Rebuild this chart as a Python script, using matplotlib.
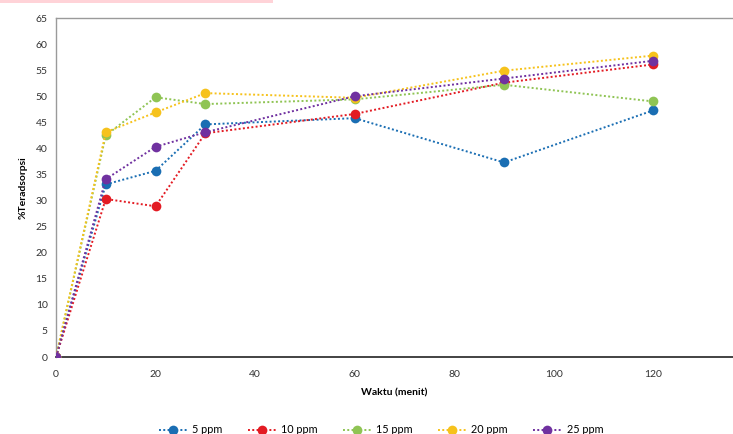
import matplotlib
matplotlib.use("Agg")
import matplotlib.pyplot as plt
from matplotlib.patches import Rectangle

plt.rcParams['font.family'] = ['Lato', 'DejaVu Sans']

waktu = [0, 10, 20, 30, 60, 90, 120]
ppm_5 = [0, 33.1, 35.7, 44.6, 45.8, 37.3, 47.3]
ppm_10 = [0, 30.3, 28.9, 42.9, 46.6, 52.6, 56.1]
ppm_15 = [0, 42.5, 49.8, 48.5, 49.4, 52.2, 49.0]
ppm_20 = [0, 43.1, 46.9, 50.6, 49.7, 54.9, 57.8]
ppm_25 = [0, 34.1, 40.3, 43.1, 50.0, 53.4, 56.8]

labels = ['5 ppm', '10 ppm', '15 ppm', '20 ppm', '25 ppm']
colors = ['#1a6eb3', '#e31b23', '#8fc454', '#f6c21c', '#7031a0']
series = [ppm_5, ppm_10, ppm_15, ppm_20, ppm_25]

fig = plt.figure(figsize=(7.33, 4.34), dpi=100)
ax = fig.add_axes([0.0764, 0.1774, 0.9236, 0.7811])

for vals, lab, col in zip(series, labels, colors):
    ax.plot(waktu, vals, linestyle=(0, (1, 1.2)), linewidth=1.4, color=col,
            marker='o', markersize=7.0, markeredgewidth=0, label=lab)

ax.set_xlim(0, 136)
ax.set_ylim(0, 65)
ax.set_xticks(range(0, 121, 20))
ax.set_yticks(range(0, 66, 5))
ax.tick_params(axis='both', length=0, labelsize=7.5, colors='#333333', pad=6)
ax.tick_params(axis='x', pad=9)

ax.spines['right'].set_visible(False)
ax.spines['left'].set_color('#9a9a9a')
ax.spines['top'].set_color('#9a9a9a')
ax.spines['bottom'].set_color('#222222')
ax.spines['left'].set_linewidth(1.0)
ax.spines['top'].set_linewidth(1.0)
ax.spines['bottom'].set_linewidth(1.2)
for sp in ax.spines.values():
    sp.set_zorder(0)

ax.set_xlabel('Waktu (menit)', fontsize=7.5, fontweight='bold', labelpad=7)
ax.set_ylabel('%Teradsorpsi', fontsize=7.5, fontweight='bold', labelpad=6)

ax.legend(loc='lower center', bbox_to_anchor=(0.48, -0.26), ncol=5,
          frameon=False, fontsize=7.8, handlelength=2.6, columnspacing=2.3,
          handletextpad=0.5)

# thin pink strip along the top edge
fig.patches.append(Rectangle((0, 0.993), 0.372, 0.007, transform=fig.transFigure,
                             facecolor='#ffd3d8', edgecolor='none'))

plt.savefig('out.png', dpi=100)
